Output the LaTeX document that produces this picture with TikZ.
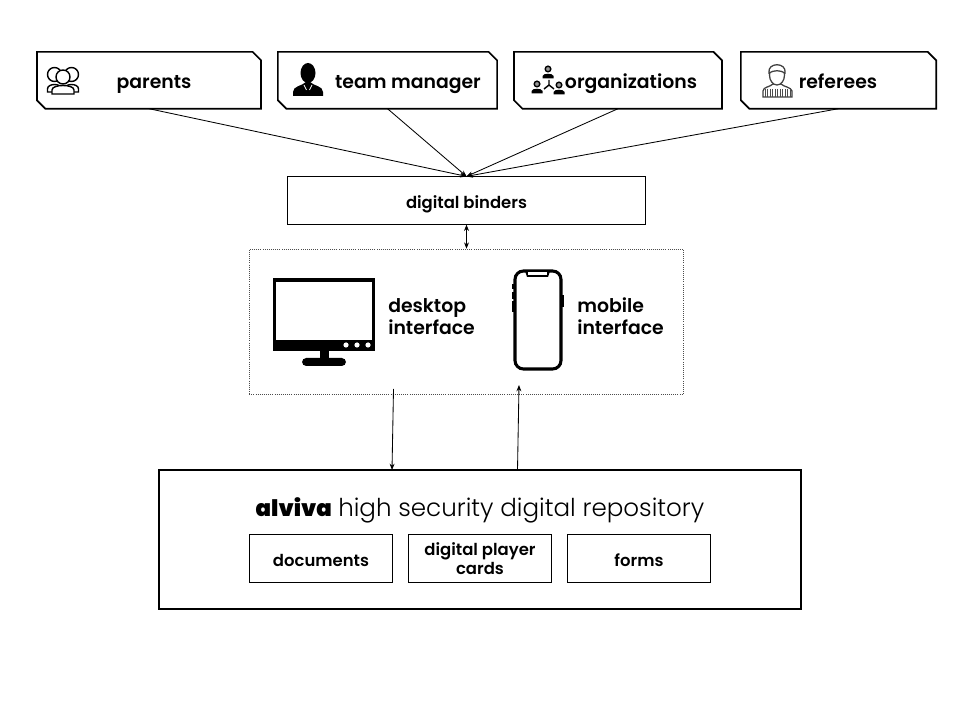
\documentclass[tikz,border=0pt]{standalone}
\usepackage{fontspec}
\setmainfont{Poppins}[BoldFont={Poppins SemiBold}]
\newfontfamily\lightfont{Poppins Light}
\newfontfamily\blackfont{Poppins Black}
\usetikzlibrary{arrows.meta}

\tikzset{
    userbox/.style={inner sep=0pt, minimum height=40pt},
    plainbox/.style={draw, line width=0.7pt, inner sep=0pt, align=center, minimum height=33.6pt, font=\bfseries\fontsize{11.7}{13.8}\selectfont},
    singleline/.style={text height=11pt, text depth=0pt},
    userlabel/.style={anchor=base, inner sep=0pt, font=\bfseries\fontsize{13.4}{16}\selectfont},
    sidelabel/.style={anchor=base west, inner sep=0pt, align=left, font=\bfseries\fontsize{13.4}{15.8}\selectfont},
    bigarrow/.style={line width=0.6pt, -{Stealth[length=4.5pt,width=3.5pt]}},
    twoarrow/.style={line width=0.6pt, {Stealth[length=4.5pt,width=3.5pt]}-{Stealth[length=4.5pt,width=3.5pt]}}
}

\begin{document}
\begin{tikzpicture}[x=0.025cm, y=-0.025cm]
    \useasboundingbox (0,0) rectangle (960,720);

    % Users
    \node[userbox, minimum width=159pt] (parents) at (149,80.3) {};
    \node[userbox, minimum width=155.5pt] (manager) at (387.5,80.3) {};
    \node[userbox, minimum width=147.5pt] (organizations) at (618,80.3) {};
    \node[userbox, minimum width=138.5pt] (referees) at (838.5,80.3) {};
    \foreach \i in {parents,manager,organizations,referees} {
        \draw[line width=1.2pt] (\i.north west) -- ([xshift=-6pt]\i.north east) -- ([yshift=-6pt]\i.north east)
            -- (\i.south east) -- ([xshift=6pt]\i.south west) -- ([yshift=6pt]\i.south west) -- cycle;
    }
    \node[userlabel] (parentstext) at (154,88.5) {parents};
    \node[userlabel] (managertext) at (408,88.5) {team manager};
    \node[userlabel] (organizationstext) at (631,88.5) {organizations};
    \node[userlabel] (refereestext) at (838,88.5) {referees};

    % Parents icon
    \foreach \i in {54.5,71.5} {
        \draw[line width=1pt, fill=white] (\i,74.5) circle (7);
        \draw[line width=1pt, fill=white] (\i-7,92) -- (\i-7,89) .. controls (\i-7,83) and (\i+7,83) .. (\i+7,89) -- (\i+7,92) -- cycle;
    }
    \draw[line width=1pt, fill=white] (63,77) circle (7);
    \draw[line width=1pt, fill=white] (52,94) -- (52,90) .. controls (52,84) and (74,84) .. (74,90) -- (74,94) -- cycle;

    % Team manager icon
    \fill (308,73) ellipse (7.5 and 10);
    \fill (293,96) -- (293,92) .. controls (293,86) and (302,86) .. (306,82) -- (310,82) .. controls (314,86) and (323,86) .. (323,92) -- (323,96) -- cycle;
    \draw[white, line width=0.5pt] (304,85) -- (306.5,90) (312,85) -- (309.5,90);

    % Organizations icon
    \foreach \x/\y in {548/69, 537/84, 559/85} {
        \draw[line width=1pt, fill=black!40] (\x,\y) circle (2.8);
        \fill (\x-5.5,\y+9.5) -- (\x-5.5,\y+7) .. controls (\x-5.5,\y+4) and (\x+5.5,\y+4) .. (\x+5.5,\y+7) -- (\x+5.5,\y+9.5) -- cycle;
    }
    \draw[line width=1pt] (549,80) -- (549,85) -- (544,89) (549,85) -- (554,89);

    % Referees icon
    \draw[line width=0.9pt, black!75, fill=white] (763,97) -- (763,91) .. controls (763,87) and (770,87) .. (773,84) -- (781,84) .. controls (784,87) and (791,87) .. (792,91) -- (792,97) -- cycle;
    \foreach \i in {765,767.5,770,772.5,775,777.5,780,782.5,785,787.5,790} {
        \draw[line width=0.7pt, black!70] (\i,89) -- (\i,97);
    }
    \draw[line width=0.9pt, black!75, fill=white] (777,75) ellipse (7.5 and 10);
    \draw[line width=0.9pt, black!75, fill=white] (769,73) .. controls (767,62) and (787,62) .. (785,73) .. controls (780,70) and (774,70) .. (769,73) -- cycle;

    % Binders
    \node[plainbox, singleline, minimum width=254.5pt] (binders) at (466.5,200.5) {digital binders};

    % Interfaces
    \node[draw, densely dotted, black!70, line width=0.5pt, minimum width=309pt, minimum height=103pt, inner sep=0pt] (interfaces) at (466.5,321.5) {};

    % Desktop icon
    \fill (273,278) rectangle (375,351);
    \fill[white] (276,282) rectangle (372,340);
    \foreach \i in {346,357,368} {
        \fill[white] (\i,345) circle (2.6);
    }
    \fill (320,351) rectangle (329,360);
    \fill[rounded corners=3pt] (302,358) rectangle (346,366);

    % Mobile icon
    \draw[line width=2.2pt, rounded corners=6pt] (515,271) rectangle (561,369);
    \fill (525,271) -- (550,271) -- (548,277) -- (527,277) -- cycle;
    \fill[white] (528,272.5) rectangle (547,275);
    \fill (512,284) rectangle (514,289);
    \fill (512,292) rectangle (514,299);
    \fill (512,301) rectangle (514,312);
    \fill (562,295) rectangle (564,307);

    \node[sidelabel] (desktoptext) at (388,335) {desktop\\interface};
    \node[sidelabel] (mobiletext) at (577,335) {mobile\\interface};

    % Repository
    \node[draw, line width=1.2pt, minimum width=457pt, minimum height=98.5pt, inner sep=0pt] (repository) at (480,539.5) {};
    \node[anchor=base, inner sep=0pt] (title) at (480,516.5) {{\fontsize{16.2}{20}\blackfont alviva}\hspace{4.5pt}{\fontsize{17.5}{20}\lightfont high security digital repository}};
    \node[plainbox, singleline, minimum width=102pt] (documents) at (321,558.5) {documents};
    \node[plainbox, minimum width=102pt] (cards) at (480,558.5) {digital player\\cards};
    \node[plainbox, singleline, minimum width=102pt] (forms) at (639,558.5) {forms};

    % Arrows
    \coordinate (desktopout) at (393.5,389);
    \coordinate (desktopin) at (392,470);
    \coordinate (mobileout) at (517.5,470);
    \coordinate (mobilein) at (519,385);
    \foreach \i in {parents,manager,organizations,referees} {
        \draw[bigarrow] (\i.south) -- (binders.north);
    }
    \draw[twoarrow] (binders.south) -- (interfaces.north);
    \draw[bigarrow] (desktopout) -- (desktopin);
    \draw[bigarrow] (mobileout) -- (mobilein);
\end{tikzpicture}
\end{document}
